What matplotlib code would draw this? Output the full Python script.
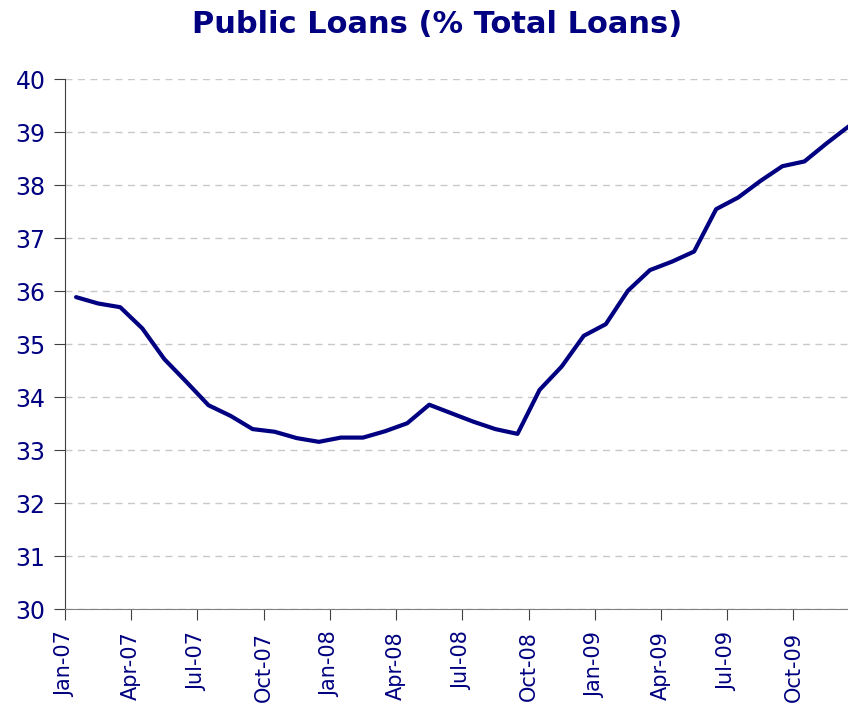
import matplotlib
matplotlib.use("Agg")
import matplotlib.pyplot as plt
import numpy as np

# monthly share of public loans, Jan-07 .. Dec-09
months = ["Jan-07", "Feb-07", "Mar-07", "Apr-07", "May-07", "Jun-07",
          "Jul-07", "Aug-07", "Sep-07", "Oct-07", "Nov-07", "Dec-07",
          "Jan-08", "Feb-08", "Mar-08", "Apr-08", "May-08", "Jun-08",
          "Jul-08", "Aug-08", "Sep-08", "Oct-08", "Nov-08", "Dec-08",
          "Jan-09", "Feb-09", "Mar-09", "Apr-09", "May-09", "Jun-09",
          "Jul-09", "Aug-09", "Sep-09", "Oct-09", "Nov-09", "Dec-09"]
public_share = [35.89, 35.77, 35.70, 35.30, 34.72, 34.29,
                33.85, 33.65, 33.40, 33.35, 33.23, 33.16,
                33.24, 33.24, 33.36, 33.51, 33.86, 33.70,
                33.54, 33.40, 33.31, 34.14, 34.58, 35.16,
                35.38, 36.01, 36.40, 36.56, 36.75, 37.55,
                37.77, 38.08, 38.36, 38.45, 38.79, 39.11]
tick_labels = months[::3]

navy = "#000080"

fig = plt.figure(figsize=(8.48, 7.11), dpi=100)
# axes run a little past the right edge of the figure
ax = fig.add_axes([0.0767, 0.143, 0.937, 0.7455])

x = np.arange(len(public_share)) + 0.5
ax.plot(x, public_share, color=navy, lw=3, solid_joinstyle="round",
        solid_capstyle="round", zorder=3, clip_on=False)

ax.set_xlim(0, len(months))
ax.set_ylim(30, 40)
ax.set_yticks(np.arange(30, 41, 1))
ax.set_xticks(np.arange(0, len(months), 3))
ax.set_xticklabels(tick_labels, rotation=90)

ax.grid(axis="y", color="#c8c8c8", ls=(0, (5, 4)), lw=1)
ax.set_axisbelow(True)
for s in ["top", "right"]:
    ax.spines[s].set_visible(False)
ax.spines["left"].set_color("#404040")
ax.spines["bottom"].set_color("#808080")
ax.tick_params(axis="both", direction="out", length=8, colors="#404040",
               labelcolor=navy, labelsize=17)
ax.tick_params(axis="y", pad=6)
ax.tick_params(axis="x", pad=8, labelsize=15)

fig.text(0.515, 0.965, "Public Loans (% Total Loans)", ha="center", va="center",
         fontsize=22, fontweight="bold", color=navy)

fig.savefig("out.png", dpi=100)
